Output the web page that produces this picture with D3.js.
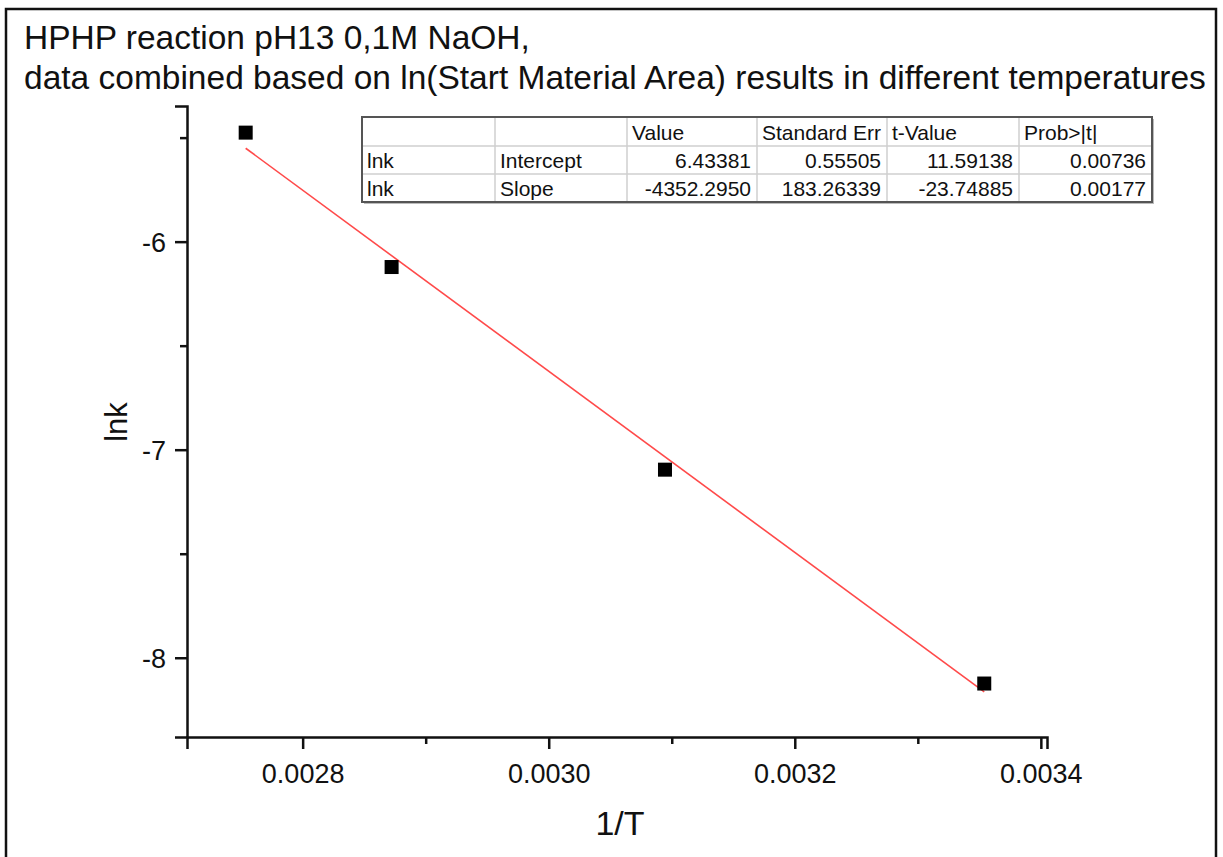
<!DOCTYPE html>
<html>
<head>
<meta charset="utf-8">
<script src="https://cdn.jsdelivr.net/npm/d3@7/dist/d3.min.js"></script>
<style>
  html, body { margin: 0; padding: 0; background: #fff; }
  svg { display: block; }
  text { font-family: "Liberation Sans", Arial, sans-serif; fill: #111; }
</style>
</head>
<body>
<svg id="chart" width="1223" height="857"></svg>
<script>
// Arrhenius data: 1/T (1/K) against ln k
const invT = [0.0027537, 0.0028723, 0.0030945, 0.0033540];
const lnk = [-5.476, -6.122, -7.096, -8.124];

// Linear fit results
const fitIntercept = 6.43381;
const fitSlope = -4352.2950;

const xMajorTicks = [0.0028, 0.0030, 0.0032, 0.0034];
const xMinorTicks = [0.0029, 0.0031, 0.0033];
const yMajorTicks = [-6, -7, -8];
const yMinorTicks = [-5.5, -6.5, -7.5];

const titleLines = [
  "HPHP reaction pH13 0,1M NaOH,",
  "data combined based on ln(Start Material Area) results in different temperatures"
];

const tableHeader = ["", "", "Value", "Standard Err", "t-Value", "Prob>|t|"];
const tableRows = [
  ["lnk", "Intercept", "6.43381", "0.55505", "11.59138", "0.00736"],
  ["lnk", "Slope", "-4352.2950", "183.26339", "-23.74885", "0.00177"]
];

const svg = d3.select("#chart");

// outer frame
svg.append("rect")
  .attr("x", 6).attr("y", 9).attr("width", 1210).attr("height", 852)
  .attr("fill", "none").attr("stroke", "#111").attr("stroke-width", 2.5);

// title
svg.append("g").selectAll("text").data(titleLines).join("text")
  .attr("x", 24).attr("y", (d, i) => 49 + i * 40)
  .attr("font-size", 33.5)
  .text(d => d);

const x = d3.scaleLinear().domain([0.002706, 0.003405]).range([187, 1047]);
const y = d3.scaleLinear().domain([-8.381, -5.348]).range([737, 106]);

// bottom axis
const xAxis = svg.append("g").attr("transform", `translate(0,${y.range()[0]})`)
  .call(d3.axisBottom(x).tickValues(xMajorTicks).tickFormat(d3.format(".4f"))
    .tickSizeOuter(0).tickSize(12).tickPadding(15));
const xMinor = svg.append("g").attr("transform", `translate(0,${y.range()[0]})`)
  .call(d3.axisBottom(x).tickValues(xMinorTicks).tickFormat("").tickSizeOuter(0).tickSize(7));
xMinor.select(".domain").remove();

// left axis
const yAxis = svg.append("g").attr("transform", `translate(${x.range()[0]},0)`)
  .call(d3.axisLeft(y).tickValues(yMajorTicks).tickFormat(d => String(d))
    .tickSizeOuter(0).tickSize(12).tickPadding(9));
const yMinor = svg.append("g").attr("transform", `translate(${x.range()[0]},0)`)
  .call(d3.axisLeft(y).tickValues(yMinorTicks).tickFormat("").tickSizeOuter(0).tickSize(7));
yMinor.select(".domain").remove();

svg.selectAll(".domain").attr("stroke", "#111").attr("stroke-width", 2.5);
svg.selectAll(".tick line").attr("stroke", "#111").attr("stroke-width", 2.5);
svg.selectAll(".tick text")
  .attr("font-family", "'Liberation Sans', Arial, sans-serif")
  .attr("font-size", 27).attr("fill", "#111");
yAxis.selectAll(".tick text").attr("dy", "0.35em");

// axis titles
svg.append("text")
  .attr("x", 620).attr("y", 835)
  .attr("text-anchor", "middle").attr("font-size", 34)
  .text("1/T");
svg.append("text")
  .attr("transform", "translate(127,422) rotate(-90)")
  .attr("text-anchor", "middle").attr("font-size", 31)
  .text("lnk");

// fitted line across the data range
const xExt = d3.extent(invT);
const fitPts = xExt.map(v => [v, fitIntercept + fitSlope * v]);
svg.append("path")
  .attr("d", d3.line().x(d => x(d[0])).y(d => y(d[1]))(fitPts))
  .attr("fill", "none").attr("stroke", "#ff4a4a").attr("stroke-width", 1.6);

// data markers
const sz = 14;
svg.append("g").selectAll("rect").data(invT).join("rect")
  .attr("x", (d) => x(d) - sz / 2)
  .attr("y", (d, i) => y(lnk[i]) - sz / 2)
  .attr("width", sz).attr("height", sz)
  .attr("fill", "#000");

// fit parameter table
const colEdges = [362, 495, 627, 757, 887, 1019, 1152];
const rowEdges = [117, 146, 174, 202];
const table = svg.append("g");
const allRows = [tableHeader, ...tableRows];

table.append("rect")
  .attr("x", colEdges[0] + 2).attr("y", rowEdges[0] + 2)
  .attr("width", colEdges[6] - colEdges[0]).attr("height", rowEdges[3] - rowEdges[0])
  .attr("fill", "#bbb");
table.append("rect")
  .attr("x", colEdges[0]).attr("y", rowEdges[0])
  .attr("width", colEdges[6] - colEdges[0]).attr("height", rowEdges[3] - rowEdges[0])
  .attr("fill", "#fff");

table.selectAll("line.v").data(colEdges.slice(1, -1)).join("line")
  .attr("class", "v")
  .attr("x1", d => d).attr("x2", d => d)
  .attr("y1", rowEdges[0]).attr("y2", rowEdges[3])
  .attr("stroke", "#cfcfcf").attr("stroke-width", 1.5);
table.selectAll("line.h").data(rowEdges.slice(1, -1)).join("line")
  .attr("class", "h")
  .attr("x1", colEdges[0]).attr("x2", colEdges[6])
  .attr("y1", d => d).attr("y2", d => d)
  .attr("stroke", "#cfcfcf").attr("stroke-width", 1.5);
table.append("rect")
  .attr("x", colEdges[0]).attr("y", rowEdges[0])
  .attr("width", colEdges[6] - colEdges[0]).attr("height", rowEdges[3] - rowEdges[0])
  .attr("fill", "none").attr("stroke", "#555").attr("stroke-width", 2);

allRows.forEach((row, r) => {
  row.forEach((cell, c) => {
    const rightAlign = r > 0 && c >= 2;
    table.append("text")
      .attr("x", rightAlign ? colEdges[c + 1] - 6 : colEdges[c] + 5)
      .attr("y", rowEdges[r + 1] - 6)
      .attr("text-anchor", rightAlign ? "end" : "start")
      .attr("font-size", 21)
      .text(cell);
  });
});
</script>
</body>
</html>
